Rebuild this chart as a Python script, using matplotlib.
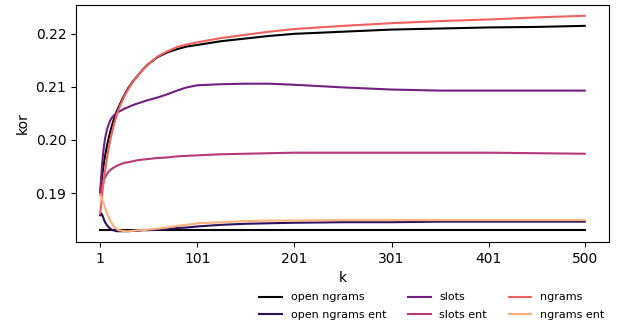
import numpy as np
import matplotlib
matplotlib.use("Agg")
import matplotlib.pyplot as plt

# sampled k values
k = [1, 2, 3, 4, 5, 6, 8, 10, 12, 14, 16, 18, 20, 23, 26, 30, 35, 40, 45, 50,
     60, 70, 80, 90, 101, 125, 150, 175, 201, 251, 301, 351, 401, 451, 500]

open_ngrams = [0.1902, 0.1918, 0.1933, 0.1947, 0.1959, 0.1970, 0.1989, 0.2006, 0.2020,
               0.2033, 0.2044, 0.2054, 0.2062, 0.2074, 0.2085, 0.2098, 0.2111, 0.2122,
               0.2133, 0.2142, 0.2156, 0.2165, 0.2171, 0.2176, 0.2179, 0.2186, 0.2191,
               0.2196, 0.2200, 0.2204, 0.2208, 0.2210, 0.2212, 0.2213, 0.2215]
open_ngrams_ent = [0.1858, 0.1862, 0.1859, 0.1854, 0.1849, 0.1845, 0.1839, 0.1835, 0.1832,
                   0.1830, 0.1829, 0.1828, 0.1828, 0.1828, 0.1828, 0.1828, 0.1829, 0.1829,
                   0.1830, 0.1830, 0.1831, 0.1832, 0.1834, 0.1835, 0.1837, 0.1840, 0.1842,
                   0.1843, 0.1844, 0.1845, 0.1845, 0.1846, 0.1846, 0.1846, 0.1846]
slots = [0.1902, 0.1930, 0.1955, 0.1975, 0.1990, 0.2003, 0.2020, 0.2031, 0.2039,
         0.2044, 0.2048, 0.2051, 0.2053, 0.2056, 0.2059, 0.2062, 0.2066, 0.2069,
         0.2072, 0.2075, 0.2080, 0.2086, 0.2093, 0.2099, 0.2103, 0.2105, 0.2106,
         0.2106, 0.2104, 0.2099, 0.2095, 0.2093, 0.2093, 0.2093, 0.2093]
slots_ent = [0.1896, 0.1905, 0.1913, 0.1919, 0.1925, 0.1929, 0.1936, 0.1941, 0.1944,
             0.1947, 0.1949, 0.1951, 0.1953, 0.1955, 0.1957, 0.1958, 0.1960, 0.1962,
             0.1963, 0.1964, 0.1966, 0.1967, 0.1969, 0.1970, 0.1971, 0.1973, 0.1974,
             0.1975, 0.1976, 0.1976, 0.1976, 0.1976, 0.1976, 0.1975, 0.1974]
ngrams = [0.1862, 0.1880, 0.1897, 0.1913, 0.1928, 0.1942, 0.1966, 0.1987, 0.2005,
          0.2021, 0.2035, 0.2047, 0.2058, 0.2071, 0.2083, 0.2096, 0.2110, 0.2122,
          0.2133, 0.2142, 0.2157, 0.2167, 0.2175, 0.2180, 0.2184, 0.2192, 0.2198,
          0.2204, 0.2209, 0.2215, 0.2220, 0.2224, 0.2227, 0.2231, 0.2234]
ngrams_ent = [0.1896, 0.1893, 0.1888, 0.1883, 0.1878, 0.1873, 0.1862, 0.1853, 0.1846,
              0.1840, 0.1835, 0.1832, 0.1830, 0.1829, 0.1828, 0.1828, 0.1829, 0.1830,
              0.1830, 0.1831, 0.1833, 0.1835, 0.1838, 0.1840, 0.1843, 0.1845, 0.1847,
              0.1848, 0.1848, 0.1849, 0.1849, 0.1849, 0.1849, 0.1849, 0.1849]
baseline = 0.1830

series = [
    ("open ngrams", open_ngrams),
    ("open ngrams ent", open_ngrams_ent),
    ("slots", slots),
    ("slots ent", slots_ent),
    ("ngrams", ngrams),
    ("ngrams ent", ngrams_ent),
]
xticks = [1, 101, 201, 301, 401, 500]

colors = plt.cm.magma(np.linspace(0, 1, 7))[:6]

fig = plt.figure(figsize=(6.33, 3.24), dpi=100)
ax = fig.add_axes([76 / 633, 1 - 242 / 324, (609 - 76) / 633, (242 - 5) / 324])

ax.plot([k[0], k[-1]], [baseline, baseline], color="black", lw=1.5)
for (label, vals), c in zip(series, colors):
    ax.plot(k, vals, color=c, lw=1.5, label=label)

ax.set_xticks(xticks)
ax.set_xlabel("k")
ax.set_ylabel("kor")

fig.legend(loc="upper left", bbox_to_anchor=(255 / 633, 1 - 288 / 324),
           ncol=3, frameon=False, fontsize=8, borderaxespad=0, labelspacing=0.7)

fig.savefig("out.png", dpi=100)
